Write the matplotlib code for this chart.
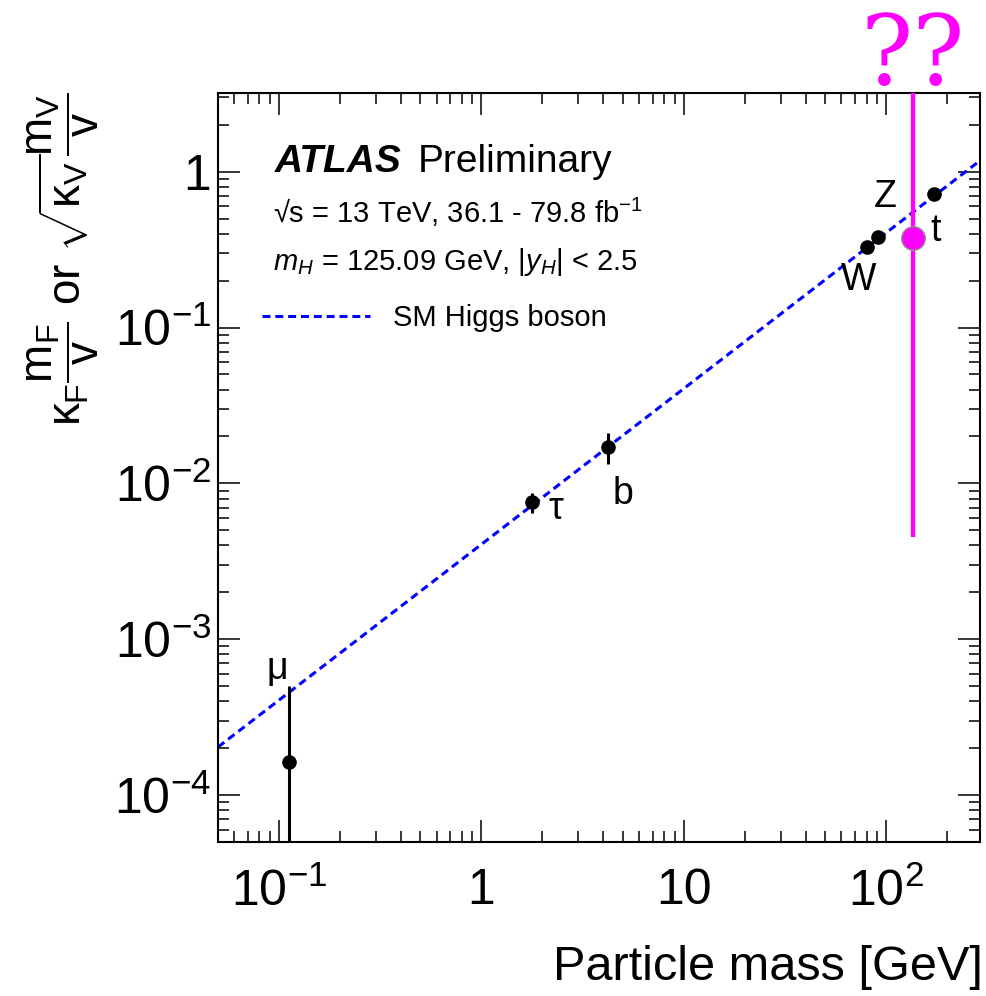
import numpy as np
from matplotlib import pyplot as plt
from matplotlib import ticker

plt.rcParams['font.family'] = ['Liberation Sans', 'DejaVu Sans']
plt.rcParams['mathtext.fontset'] = 'custom'
plt.rcParams['mathtext.rm'] = 'Liberation Sans'
plt.rcParams['mathtext.it'] = 'Liberation Sans'
plt.rcParams['mathtext.cal'] = 'Liberation Sans:italic'
plt.rcParams['mathtext.bf'] = 'Liberation Sans:bold'
plt.rcParams['mathtext.sf'] = 'Liberation Sans'

# measured couplings (GeV, reduced coupling)
particles = [r'$\mu$', r'$\tau$', 'b', 'W', 'Z', 't']
mass = [0.112, 1.77, 4.2, 80.4, 91.2, 172.5]
coupling = [1.64e-4, 7.6e-3, 0.0171, 0.330, 0.380, 0.723]
coupling_lo = [1e-6, 6.5e-3, 0.0134, 0.325, 0.375, 0.715]
coupling_hi = [5.0e-4, 8.7e-3, 0.0212, 0.335, 0.385, 0.730]
# label offsets in points (dx, dy)
label_dx = [-9, 18, 11, -6, 5, 1]
label_dy = [66, -5, -34, -24, 29, -27]

# the odd one out
new_mass = [135.0]
new_coupling = [0.375]
new_lo = [4.5e-3]
new_hi = [10.0]

vev = 246.0
xlim = (0.05, 290)
ylim = (5e-5, 3.2)

fig = plt.figure(figsize=(9.86, 9.96), dpi=100)
ax = fig.add_axes([218 / 986, 1 - 842 / 996, 762 / 986, 749 / 996])
ax.set_xscale('log')
ax.set_yscale('log')
ax.set_xlim(*xlim)
ax.set_ylim(*ylim)

# SM expectation: coupling = m / v
m_line = np.array(xlim)
ax.plot(m_line, m_line / vev, color='#0000ff', lw=2.2,
        linestyle=(0, (2.6, 1.6)), label='SM Higgs boson', zorder=2)

mass = np.array(mass)
coupling = np.array(coupling)
yerr = [coupling - np.array(coupling_lo), np.array(coupling_hi) - coupling]
ax.errorbar(mass, coupling, yerr=yerr, fmt='o', color='black', ms=9.5,
            elinewidth=2.2, capsize=0, zorder=3)

for name, m, c, dx, dy in zip(particles, mass, coupling, label_dx, label_dy):
    ax.annotate(name, xy=(m, c), xytext=(dx, dy), textcoords='offset points',
                ha='center', va='center', fontsize=27)

new_mass = np.array(new_mass)
new_coupling = np.array(new_coupling)
new_err = [new_coupling - np.array(new_lo), np.array(new_hi) - new_coupling]
ax.errorbar(new_mass, new_coupling, yerr=new_err, fmt='o', color='#ff00ff',
            ms=17, mec='#909090', mew=1.0, elinewidth=3.1, capsize=0,
            zorder=4)
ax.annotate('??', xy=(new_mass[0], ylim[1]), xytext=(0, 25),
            textcoords='offset points', ha='center', va='center',
            fontsize=70, color='#ff00ff', family='DejaVu Serif',
            annotation_clip=False)


def log_label(v, pos):
    e = int(round(np.log10(v)))
    if e == 0:
        return '1'
    if e == 1:
        return '10'
    return r'$10^{%d}$' % e


for axis in (ax.xaxis, ax.yaxis):
    axis.set_major_locator(ticker.LogLocator(base=10, numticks=20))
    axis.set_minor_locator(ticker.LogLocator(base=10, subs=np.arange(2, 10),
                                             numticks=20))
    axis.set_major_formatter(ticker.FuncFormatter(log_label))
    axis.set_minor_formatter(ticker.NullFormatter())

ax.tick_params(which='both', direction='in', top=True, right=True,
               width=1.1, labelsize=36)
ax.tick_params(which='major', length=16)
ax.tick_params(which='minor', length=8)
ax.tick_params(axis='x', pad=19)
ax.tick_params(axis='y', pad=5)
for sp in ax.spines.values():
    sp.set_linewidth(1.5)

ax.text(0.075, 0.8945, 'ATLAS', transform=ax.transAxes, fontsize=28,
        fontweight='bold', style='italic', va='baseline')
ax.text(0.2625, 0.8945, 'Preliminary', transform=ax.transAxes, fontsize=28,
        va='baseline')
ax.text(0.072, 0.8264, '\u221as = 13 TeV, 36.1 - 79.8 fb$^{-1}$',
        transform=ax.transAxes, fontsize=21, va='baseline')
ax.text(0.072, 0.7637, r'$\mathcal{m_H}$ = 125.09 GeV, $|\mathcal{y_H}|$ < 2.5',
        transform=ax.transAxes, fontsize=21, va='baseline')
ax.legend(loc='center left', bbox_to_anchor=(0.058, 0.6996), frameon=False,
          fontsize=21, handlelength=3.7, handletextpad=0.8, borderpad=0,
          borderaxespad=0)

fig.text(983 / 986, 1 - 980 / 996, 'Particle mass [GeV]', ha='right',
         va='baseline', fontsize=35)
fig.text(63 / 986, 1 - 93 / 996,
         r'$\kappa_F\dfrac{m_F}{v}$ or $\sqrt{\kappa_V}\dfrac{m_V}{v}$',
         rotation=90, ha='center', va='top', fontsize=33)

fig.savefig('out.png', dpi=100)
